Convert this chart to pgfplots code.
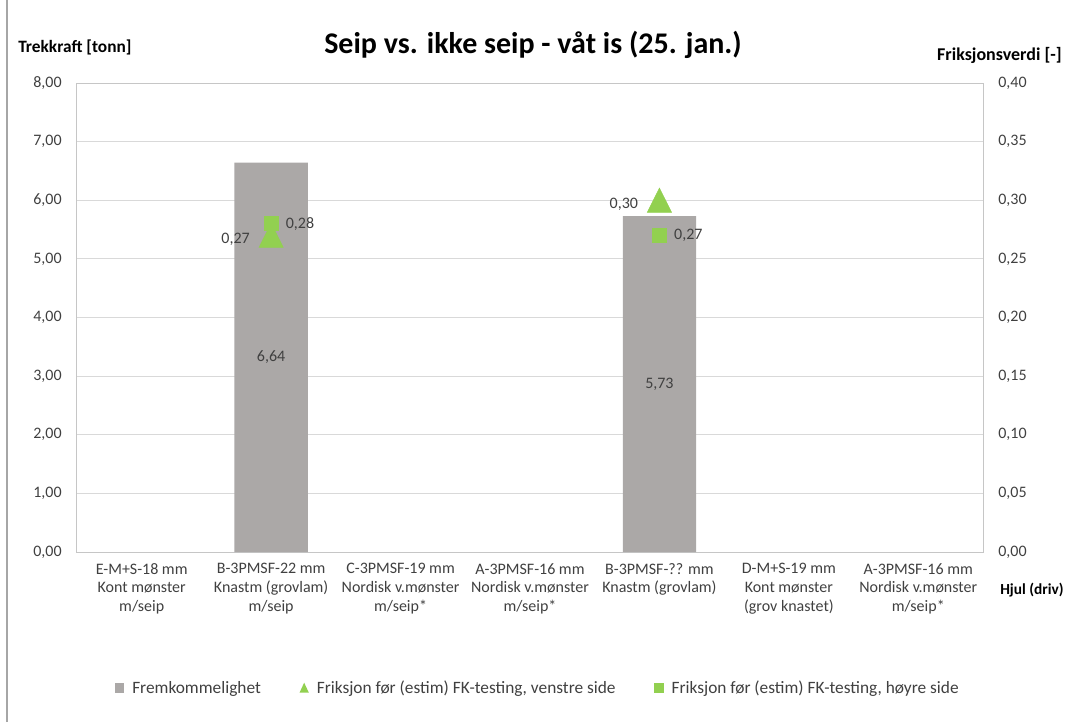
\documentclass[border=0pt]{standalone}
\usepackage{pgfplots}
\pgfplotsset{compat=1.18}
\usepackage{fontspec}
\setmainfont{Carlito}
\definecolor{bargray}{HTML}{ABA8A7}
\definecolor{fkgreen}{HTML}{92D050}
\definecolor{gridgray}{HTML}{D9D9D9}
\definecolor{framegray}{HTML}{C6C6C6}
\definecolor{txt}{HTML}{404040}
\newcommand{\tickfont}{\fontsize{12}{14}\selectfont}
\newcommand{\num}[1]{\pgfmathprintnumber[use comma,fixed,fixed zerofill,precision=2,assume math mode=true]{#1}}

\begin{document}
\begin{tikzpicture}
\useasboundingbox (0,0) rectangle (799.5pt,541.5pt);
\draw[black!35, line width=1.2pt] (5.25pt,0) -- (5.25pt,541.5pt);

% left axis: trekkraft
\begin{axis}[
    at={(57.75pt,127.5pt)}, anchor=south west,
    scale only axis, width=679.5pt, height=351.75pt,
    xmin=-0.5, xmax=6.5, ymin=0, ymax=8,
    xtick={0,...,6},
    xticklabels={
      {E-M+S-18 mm\\Kont mønster\\m/seip},
      {B-3PMSF-22 mm\\Knastm (grovlam)\\m/seip},
      {C-3PMSF-19 mm\\Nordisk v.mønster\\m/seip*},
      {A-3PMSF-16 mm\\Nordisk v.mønster\\m/seip*},
      {B-3PMSF-?? mm\\Knastm (grovlam)},
      {D-M+S-19 mm\\Kont mønster\\(grov knastet)},
      {A-3PMSF-16 mm\\Nordisk v.mønster\\m/seip*}},
    xticklabel style={align=center, font=\tickfont, text=txt, yshift=-5pt},
    ytick={0,1,...,8},
    yticklabel={\num{\tick}},
    yticklabel style={font=\tickfont, text=txt, xshift=-8pt},
    major tick length=0pt,
    ymajorgrids, grid style={gridgray, line width=0.75pt},
    axis line style={framegray, line width=0.75pt},
    ybar, bar width=55pt,
]
\addplot[fill=bargray, draw=none,
    nodes near coords={\num{\pgfplotspointmeta}},
    visualization depends on=rawy \as \rawy,
    every node near coord/.append style={anchor=center, font=\tickfont, text=txt,
        shift={(axis direction cs:0,-\rawy/2)}}]
    coordinates {(1,6.64) (4,5.73)};
\end{axis}

% right axis: friksjon
\begin{axis}[
    at={(57.75pt,127.5pt)}, anchor=south west,
    scale only axis, width=679.5pt, height=351.75pt,
    xmin=-0.5, xmax=6.5, ymin=0, ymax=0.4,
    axis y line*=right, axis x line=none,
    ytick={0,0.05,0.1,0.15,0.2,0.25,0.3,0.35,0.4},
    yticklabel={\num{\tick}},
    yticklabel style={font=\tickfont, text=txt, xshift=8pt},
    major tick length=0pt,
    axis line style={framegray, line width=0.75pt},
    legend columns=3,
    legend cell align=left,
    legend style={at={(0.509,-0.29)}, anchor=center, draw=none, fill=none,
        font=\fontsize{13}{15}\selectfont, text=txt,
        /tikz/every even column/.append style={column sep=27pt}},
]
\addlegendimage{legend image code/.code={
    \fill[bargray, draw=none] (0pt,-3.5pt) rectangle (7pt,3.5pt);
    \path[draw=none, fill=none] (0pt,0pt) -- (11pt,0pt);}}
\addlegendentry{Fremkommelighet}
\addlegendimage{legend image code/.code={
    \fill[fkgreen, draw=none] (0pt,-3.5pt) -- (7pt,-3.5pt) -- (3.5pt,4pt) -- cycle;
    \path[draw=none, fill=none] (0pt,0pt) -- (11pt,0pt);}}
\addlegendentry{Friksjon før (estim) FK-testing, venstre side}
\addlegendimage{legend image code/.code={
    \fill[fkgreen, draw=none] (0pt,-3.5pt) rectangle (7pt,3.5pt);
    \path[draw=none, fill=none] (0pt,0pt) -- (11pt,0pt);}}
\addlegendentry{Friksjon før (estim) FK-testing, høyre side}

\addplot[forget plot, only marks, mark=triangle*, mark size=10.5pt, color=fkgreen,
    mark options={yshift=-3pt, yscale=1.15},
    nodes near coords={\num{\pgfplotspointmeta}},
    every node near coord/.append style={anchor=east, xshift=-12.5pt, font=\tickfont, text=txt}]
    coordinates {(1,0.27) (4,0.30)};
\addplot[forget plot, only marks, mark=square*, mark size=5.25pt, color=fkgreen,
    nodes near coords={\num{\pgfplotspointmeta}},
    every node near coord/.append style={anchor=west, xshift=7.5pt, font=\tickfont, text=txt}]
    coordinates {(1,0.28) (4,0.27)};
\end{axis}

\node[font=\bfseries\fontsize{22.5}{26}\selectfont] at (399.75pt,507.75pt) {Seip vs. ikke seip - våt is (25. jan.)};
\node[anchor=west, inner sep=0pt, font=\bfseries\fontsize{13}{15}\selectfont] at (13.5pt,506.25pt) {Trekkraft [tonn]};
\node[anchor=east, inner sep=0pt, font=\bfseries\fontsize{13.5}{15}\selectfont] at (796.5pt,500.25pt) {Friksjonsverdi [-]};
\node[anchor=west, inner sep=0pt, font=\bfseries\fontsize{11.5}{13}\selectfont] at (750pt,99pt) {Hjul (driv)};
\end{tikzpicture}
\end{document}
